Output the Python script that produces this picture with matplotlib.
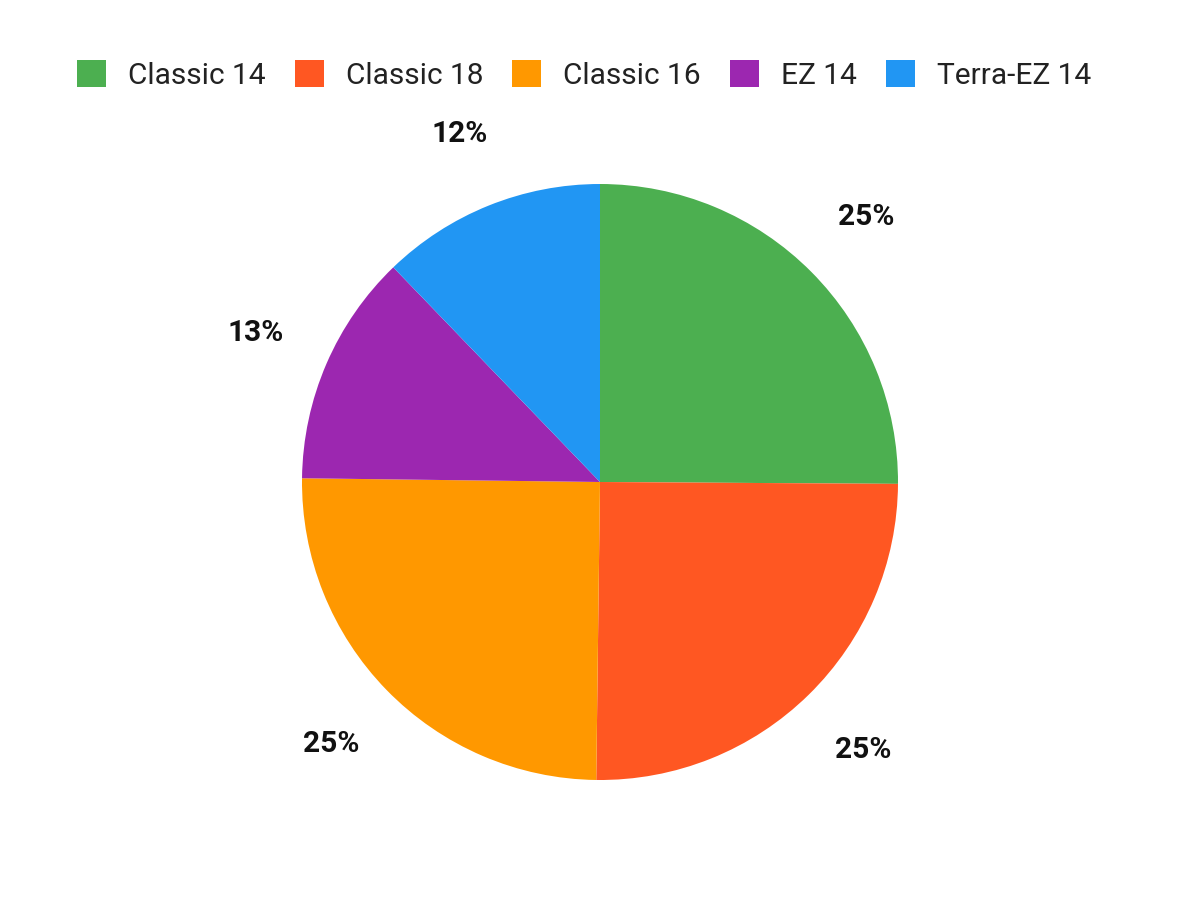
import matplotlib.pyplot as plt
from matplotlib.patches import Patch

names = ["Classic 14", "Classic 18", "Classic 16", "EZ 14", "Terra-EZ 14"]
shares = [25.1, 25.1, 25.0, 12.6, 12.2]
pct_labels = ["25%", "25%", "25%", "13%", "12%"]
colors = ["#4CAF50", "#FF5722", "#FF9800", "#9C27B0", "#2196F3"]

plt.rcParams['font.family'] = ['Roboto', 'DejaVu Sans']

fig = plt.figure(figsize=(12, 9), dpi=100)
# square axes in pixels holding the pie exactly
ax = fig.add_axes([302 / 1200, 120 / 900, 596 / 1200, 596 / 900])
wedges, texts = ax.pie(shares, colors=colors, startangle=90, counterclock=False,
                       labels=pct_labels, labeldistance=1.26,
                       wedgeprops=dict(linewidth=0))
for t in texts:
    t.set_fontsize(21.5)
    t.set_fontweight('bold')
    t.set_color('#111111')
    t.set_ha('center')
    t.set_va('center')
ax.set_xlim(-1, 1)
ax.set_ylim(-1, 1)
ax.axis('off')

handles = [Patch(facecolor=c, edgecolor='none') for c in colors]
fig.legend(handles, names, loc='center', bbox_to_anchor=(584 / 1200, 1 - 75 / 900),
           ncol=5, frameon=False, fontsize=21.5, handlelength=0.97, handleheight=1.0,
           handletextpad=0.74, columnspacing=0.97, labelcolor='#222222')

plt.savefig('out.png')
